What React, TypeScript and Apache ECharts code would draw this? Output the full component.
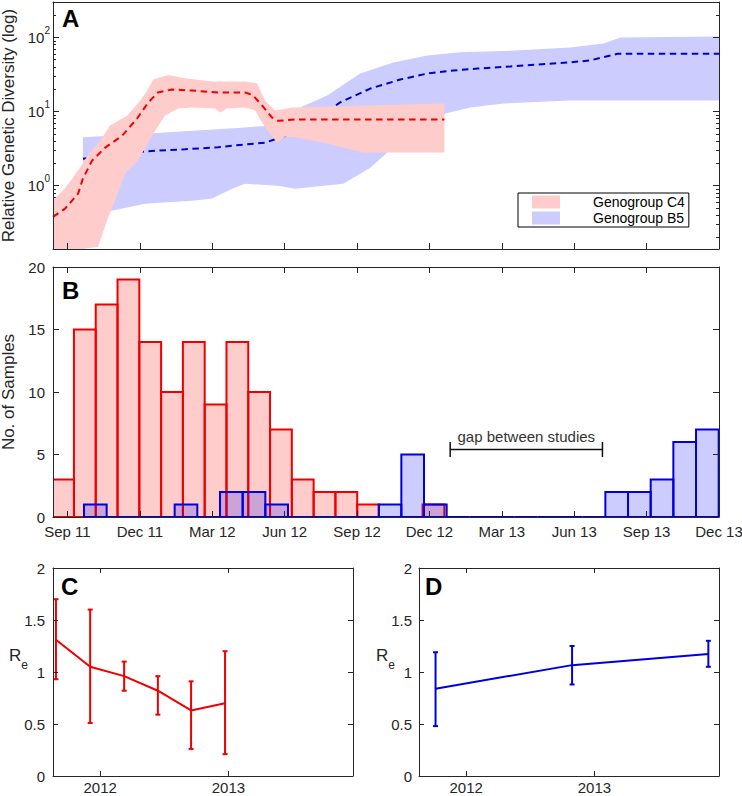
import React, { useEffect, useRef } from 'react';
import * as echarts from 'echarts';

const FONT = '"Liberation Sans", Arial, Helvetica, sans-serif';
const INK = '#262626';
const RED = '#ee0000';
const BLUE = '#0000dd';

// ---------- shared time axis for panels A and B (months after Sep 2011) ----------
const timeMin = -0.6;
const timeMax = 27;
const monthTickValues = [0, 3, 6, 9, 12, 15, 18, 21, 24, 27];
const monthTickLabels = ['Sep 11', 'Dec 11', 'Mar 12', 'Jun 12', 'Sep 12', 'Dec 12', 'Mar 13', 'Jun 13', 'Sep 13', 'Dec 13'];

// ---------- panel A: relative genetic diversity (log) ----------
const diversityMin = 0.14;
const diversityMax = 300;
const diversityMajorTicks = [1, 10, 100];
const diversityMinorTicks = [0.2, 0.3, 0.4, 0.5, 0.6, 0.7, 0.8, 0.9, 2, 3, 4, 5, 6, 7, 8, 9, 20, 30, 40, 50, 60, 70, 80, 90, 200];

const c4Median: [number, number][] = [
  [-0.6, 0.38], [-0.1, 0.49], [0.44, 0.78], [0.64, 1.25], [1.02, 2.18], [1.56, 3.26], [2.26, 4.7],
  [2.88, 8.0], [3.34, 13.2], [3.75, 18.1], [4.33, 19.8], [5.16, 19.2], [6.24, 18.1], [7.36, 18.1],
  [7.69, 16.5], [8.07, 12.0], [8.48, 8.3], [8.73, 7.5], [9.43, 7.8], [15.62, 7.8],
];
const c4Upper: [number, number][] = [
  [-0.6, 0.63], [-0.1, 0.92], [0.44, 1.6], [0.85, 2.6], [1.35, 4.0], [1.76, 6.5], [2.47, 8.8],
  [3.01, 14], [3.3, 19], [3.55, 27], [4.17, 31], [4.87, 28], [5.99, 25.5], [7.36, 25.5],
  [7.86, 24], [8.19, 14], [8.61, 10.3], [9.35, 11.3], [12.13, 12], [15.62, 12.8],
];
const c4Lower: [number, number][] = [
  [-0.6, 0.14], [0.64, 0.14], [1.27, 0.15], [1.64, 0.34], [1.97, 0.63], [2.38, 1.45], [2.92, 2.18],
  [3.63, 5.5], [4.04, 8.8], [4.58, 11.0], [5.16, 11.3], [6.12, 11.0], [6.32, 9.7], [6.61, 11.0],
  [7.36, 11.3], [7.78, 10.3], [8.19, 6.1], [8.69, 3.8], [9.02, 4.6], [9.43, 4.5], [10.76, 3.7],
  [12.26, 2.8], [15.62, 2.8],
];
const b5Median: [number, number][] = [
  [0.64, 2.3], [3.21, 2.9], [4.87, 3.1], [6.24, 3.3], [7.36, 3.6], [8.19, 3.8], [9.64, 5.5],
  [11.3, 13.3], [12.55, 20.4], [13.79, 27], [14.91, 32.5], [15.99, 35.7], [16.99, 38], [18.35, 40.5],
  [20.84, 46], [21.67, 49], [22.79, 60], [27, 60],
];
const b5Upper: [number, number][] = [
  [0.64, 4.5], [3.21, 5.0], [7.36, 6.1], [8.48, 6.5], [9.64, 11.3], [10.76, 16.5], [12.13, 32.6],
  [13.5, 46], [14.91, 57], [16.28, 63], [18.35, 66], [20.84, 73], [22.21, 83], [22.92, 100], [27, 103],
];
const b5Lower: [number, number][] = [
  [0.64, 0.35], [1.43, 0.43], [2.38, 0.5], [3.21, 0.57], [5.29, 0.63], [5.99, 0.67], [6.82, 0.91],
  [7.36, 1.06], [8.73, 1.0], [9.43, 0.91], [11.43, 1.06], [12.55, 1.75], [13.25, 2.8], [14.41, 5.5],
  [15.66, 9.4], [16.69, 11.3], [18.07, 12.8], [20.84, 14.1], [27, 14.1],
];

// ---------- panel B: histogram of samples ----------
const c4BinStart = -0.635;
const c4BinWidth = 0.903;
const c4Counts = [3, 15, 17, 19, 14, 10, 14, 9, 14, 10, 7, 3, 2, 2, 1, 0, 0, 1];
const b5BinStart = 0.684;
const b5BinWidth = 0.9394;
const b5Counts = [1, 0, 0, 0, 1, 0, 2, 2, 1, 0, 0, 0, 0, 1, 5, 1, 0, 0, 0, 0, 0, 0, 0, 2, 2, 3, 6, 7];
const samplesMax = 20;
const samplesInterval = 5;
const gapLabel = 'gap between studies';
const gapStart = 15.86;
const gapEnd = 22.17;
const gapLevel = 5.4;

// ---------- panels C and D: effective reproduction number ----------
const yearMin = 2011.632;
const yearMax = 2013.972;
const yearTicks = [2012, 2013];
const reMax = 2;
const reInterval = 0.5;

const c4Years = [2011.655, 2011.922, 2012.187, 2012.45, 2012.709, 2012.974];
const c4Re = [1.31, 1.05, 0.96, 0.82, 0.63, 0.7];
const c4ReLow = [0.93, 0.51, 0.82, 0.59, 0.26, 0.21];
const c4ReHigh = [1.7, 1.6, 1.1, 0.96, 0.91, 1.2];

const b5Years = [2011.761, 2012.826, 2013.889];
const b5Re = [0.84, 1.066, 1.174];
const b5ReLow = [0.48, 0.88, 1.05];
const b5ReHigh = [1.19, 1.25, 1.3];

// ---------- helpers ----------
const tickLine = { color: INK, width: 1 };
const labelText = { color: INK, fontFamily: FONT, fontSize: 15 };

function frameAxis(extra: any) {
  return {
    type: 'value',
    axisLine: { show: true, onZero: false, lineStyle: { color: INK, width: 1 } },
    axisTick: { show: false },
    axisLabel: { show: false },
    splitLine: { show: false },
    ...extra,
  };
}

function bandRender(upper: [number, number][], lower: [number, number][], fill: string) {
  return (params: any, api: any) => {
    if (params.dataIndex !== 0) return null;
    const pts = [
      ...upper.map((p) => api.coord(p)),
      ...lower.slice().reverse().map((p) => api.coord(p)),
    ];
    return { type: 'polygon', shape: { points: pts }, style: { fill } };
  };
}

function histRender(fill: string, stroke: string) {
  return (params: any, api: any) => {
    const x0 = api.value(0);
    const x1 = api.value(1);
    const v = api.value(2);
    const a = api.coord([x0, v]);
    const b = api.coord([x1, 0]);
    if (v === 0) {
      return { type: 'line', shape: { x1: a[0], y1: b[1], x2: b[0], y2: b[1] }, style: { stroke, lineWidth: 2 } };
    }
    return {
      type: 'rect',
      shape: { x: a[0], y: a[1], width: b[0] - a[0], height: b[1] - a[1] },
      style: { fill, stroke, lineWidth: 2 },
    };
  };
}

function errRender(color: string) {
  return (params: any, api: any) => {
    const x = api.value(0);
    const lo = api.coord([x, api.value(1)]);
    const hi = api.coord([x, api.value(2)]);
    const w = 2.5;
    const st = { stroke: color, lineWidth: 2 };
    return {
      type: 'group',
      children: [
        { type: 'line', shape: { x1: lo[0], y1: lo[1], x2: hi[0], y2: hi[1] }, style: st },
        { type: 'line', shape: { x1: lo[0] - w, y1: lo[1], x2: lo[0] + w, y2: lo[1] }, style: st },
        { type: 'line', shape: { x1: hi[0] - w, y1: hi[1], x2: hi[0] + w, y2: hi[1] }, style: st },
      ],
    };
  };
}

function gapRender(params: any, api: any) {
  const a = api.coord([api.value(0), api.value(2)]);
  const b = api.coord([api.value(1), api.value(2)]);
  const up = api.coord([api.value(0), api.value(2) + 0.6]);
  const dn = api.coord([api.value(0), api.value(2) - 0.6]);
  const st = { stroke: '#111', lineWidth: 1.5 };
  return {
    type: 'group',
    children: [
      { type: 'line', shape: { x1: a[0], y1: a[1], x2: b[0], y2: b[1] }, style: st },
      { type: 'line', shape: { x1: a[0], y1: up[1], x2: a[0], y2: dn[1] }, style: st },
      { type: 'line', shape: { x1: b[0], y1: up[1], x2: b[0], y2: dn[1] }, style: st },
      {
        type: 'text',
        style: {
          text: gapLabel, x: (a[0] + b[0]) / 2, y: a[1] - 13, align: 'center', verticalAlign: 'middle',
          fontFamily: FONT, fontSize: 15, fill: '#333',
        },
      },
    ],
  };
}

function binsOf(start: number, width: number, counts: number[]) {
  return counts.map((c, i) => [start + i * width, start + (i + 1) * width, c]);
}

function buildOption(): any {
  const logLabel = (v: number) => '10{sup|' + Math.round(Math.log10(v)) + '}';
  const monthLabel = (v: number) => monthTickLabels[monthTickValues.indexOf(Math.round(v))] ?? '';

  const grids = [
    { left: 53, top: 2, width: 666, height: 247 },
    { left: 53, top: 267, width: 666, height: 250 },
    { left: 53, top: 568, width: 300, height: 208 },
    { left: 419, top: 568, width: 300, height: 208 },
  ].map((g) => ({ ...g, containLabel: false, outerBoundsMode: 'none' }));

  const axisNameStyle = { fontFamily: FONT, fontSize: 17, color: INK, lineHeight: 17 };

  const xAxis = [
    // A
    frameAxis({
      gridIndex: 0, position: 'bottom', min: timeMin, max: timeMax, z: 6,
      axisTick: { show: true, inside: true, length: 6, customValues: monthTickValues, lineStyle: tickLine },
    }),
    frameAxis({ gridIndex: 0, position: 'top', min: timeMin, max: timeMax, z: 6 }),
    // B
    frameAxis({
      gridIndex: 1, position: 'bottom', min: timeMin, max: timeMax, z: 6,
      axisTick: { show: true, inside: true, length: 6, customValues: monthTickValues, lineStyle: tickLine },
      axisLabel: { show: true, customValues: monthTickValues, formatter: monthLabel, margin: 7, ...labelText },
    }),
    frameAxis({
      gridIndex: 1, position: 'top', min: timeMin, max: timeMax, z: 6,
      axisTick: { show: true, inside: true, length: 6, customValues: monthTickValues, lineStyle: tickLine },
    }),
    // C
    frameAxis({
      gridIndex: 2, position: 'bottom', min: yearMin, max: yearMax, z: 6,
      axisTick: { show: true, inside: true, length: 5, customValues: yearTicks, lineStyle: tickLine },
      axisLabel: { show: true, customValues: yearTicks, formatter: (v: number) => String(Math.round(v)), margin: 4, ...labelText },
    }),
    frameAxis({
      gridIndex: 2, position: 'top', min: yearMin, max: yearMax, z: 6,
      axisTick: { show: true, inside: true, length: 5, customValues: yearTicks, lineStyle: tickLine },
    }),
    // D
    frameAxis({
      gridIndex: 3, position: 'bottom', min: yearMin, max: yearMax, z: 6,
      axisTick: { show: true, inside: true, length: 5, customValues: yearTicks, lineStyle: tickLine },
      axisLabel: { show: true, customValues: yearTicks, formatter: (v: number) => String(Math.round(v)), margin: 4, ...labelText },
    }),
    frameAxis({
      gridIndex: 3, position: 'top', min: yearMin, max: yearMax, z: 6,
      axisTick: { show: true, inside: true, length: 5, customValues: yearTicks, lineStyle: tickLine },
    }),
  ];

  const logBase = { type: 'log', logBase: 10, min: diversityMin, max: diversityMax, gridIndex: 0 };
  const yAxis = [
    // A
    frameAxis({
      ...logBase, position: 'left', z: 6,
      axisTick: { show: true, inside: true, length: 6, customValues: diversityMajorTicks, lineStyle: tickLine },
      axisLabel: {
        show: true, customValues: diversityMajorTicks, formatter: logLabel, margin: 3, ...labelText,
        rich: { sup: { fontSize: 10, fontFamily: FONT, color: INK, padding: [0, 0, 14, 0] } },
      },
      name: 'Relative Genetic Diversity (log)', nameLocation: 'middle', nameGap: 36,
      nameTextStyle: axisNameStyle,
    }),
    frameAxis({
      ...logBase, position: 'right', z: 6,
      axisTick: { show: true, inside: true, length: 6, customValues: diversityMajorTicks, lineStyle: tickLine },
    }),
    frameAxis({
      ...logBase, position: 'left', axisLine: { show: false, onZero: false },
      axisTick: { show: true, inside: true, length: 3, customValues: diversityMinorTicks, lineStyle: tickLine },
    }),
    frameAxis({
      ...logBase, position: 'right', axisLine: { show: false, onZero: false },
      axisTick: { show: true, inside: true, length: 3, customValues: diversityMinorTicks, lineStyle: tickLine },
    }),
    // B
    frameAxis({
      gridIndex: 1, position: 'left', min: 0, max: samplesMax, interval: samplesInterval, z: 6,
      axisTick: { show: true, inside: true, length: 6, lineStyle: tickLine },
      axisLabel: { show: true, margin: 8, ...labelText },
      name: 'No. of Samples', nameLocation: 'middle', nameGap: 36,
      nameTextStyle: axisNameStyle,
    }),
    frameAxis({
      gridIndex: 1, position: 'right', min: 0, max: samplesMax, interval: samplesInterval, z: 6,
      axisTick: { show: true, inside: true, length: 6, lineStyle: tickLine },
    }),
    // C
    frameAxis({
      gridIndex: 2, position: 'left', min: 0, max: reMax, interval: reInterval, z: 6,
      axisTick: { show: true, inside: true, length: 5, lineStyle: tickLine },
      axisLabel: { show: true, margin: 8, ...labelText },
    }),
    frameAxis({
      gridIndex: 2, position: 'right', min: 0, max: reMax, interval: reInterval, z: 6,
      axisTick: { show: true, inside: true, length: 5, lineStyle: tickLine },
    }),
    // D
    frameAxis({
      gridIndex: 3, position: 'left', min: 0, max: reMax, interval: reInterval, z: 6,
      axisTick: { show: true, inside: true, length: 5, lineStyle: tickLine },
      axisLabel: { show: true, margin: 7, ...labelText },
    }),
    frameAxis({
      gridIndex: 3, position: 'right', min: 0, max: reMax, interval: reInterval, z: 6,
      axisTick: { show: true, inside: true, length: 5, lineStyle: tickLine },
    }),
  ];

  const series: any[] = [
    // A
    {
      type: 'custom', name: 'Genogroup B5', xAxisIndex: 0, yAxisIndex: 0, clip: true, silent: true, z: 1,
      itemStyle: { color: '#ccccff' }, data: b5Upper, encode: { x: 0, y: 1 },
      renderItem: bandRender(b5Upper, b5Lower, '#ccccff'),
    },
    {
      type: 'line', name: 'B5 median', xAxisIndex: 0, yAxisIndex: 0, data: b5Median, symbol: 'none', silent: true, z: 2,
      lineStyle: { color: '#0000cc', width: 2, type: [6.5, 4.5] },
    },
    {
      type: 'custom', name: 'Genogroup C4', xAxisIndex: 0, yAxisIndex: 0, clip: true, silent: true, z: 3,
      itemStyle: { color: '#ffcccc' }, data: c4Upper, encode: { x: 0, y: 1 },
      renderItem: bandRender(c4Upper, c4Lower, '#ffcccc'),
    },
    {
      type: 'line', name: 'C4 median', xAxisIndex: 0, yAxisIndex: 0, data: c4Median, symbol: 'none', silent: true, z: 4,
      lineStyle: { color: RED, width: 2, type: [6.5, 4.5] },
    },
    // B
    {
      type: 'custom', name: 'C4 samples', xAxisIndex: 2, yAxisIndex: 4, clip: true, silent: true, z: 2,
      data: binsOf(c4BinStart, c4BinWidth, c4Counts), encode: { x: [0, 1], y: 2 },
      renderItem: histRender('rgba(255,0,0,0.2)', RED),
    },
    {
      type: 'custom', name: 'B5 samples', xAxisIndex: 2, yAxisIndex: 4, clip: true, silent: true, z: 3,
      data: binsOf(b5BinStart, b5BinWidth, b5Counts), encode: { x: [0, 1], y: 2 },
      renderItem: histRender('rgba(0,0,255,0.2)', BLUE),
    },
    {
      type: 'custom', name: 'gap', xAxisIndex: 2, yAxisIndex: 4, silent: true, z: 4,
      data: [[gapStart, gapEnd, gapLevel]], encode: { x: [0, 1], y: 2 },
      renderItem: gapRender,
    },
    // C
    {
      type: 'line', name: 'C4 Re', xAxisIndex: 4, yAxisIndex: 6, symbol: 'none', silent: true,
      data: c4Years.map((y, i) => [y, c4Re[i]]), lineStyle: { color: RED, width: 2 },
    },
    {
      type: 'custom', name: 'C4 Re interval', xAxisIndex: 4, yAxisIndex: 6, silent: true,
      data: c4Years.map((y, i) => [y, c4ReLow[i], c4ReHigh[i]]), encode: { x: 0, y: [1, 2] },
      renderItem: errRender(RED),
    },
    // D
    {
      type: 'line', name: 'B5 Re', xAxisIndex: 6, yAxisIndex: 8, symbol: 'none', silent: true,
      data: b5Years.map((y, i) => [y, b5Re[i]]), lineStyle: { color: BLUE, width: 2 },
    },
    {
      type: 'custom', name: 'B5 Re interval', xAxisIndex: 6, yAxisIndex: 8, silent: true,
      data: b5Years.map((y, i) => [y, b5ReLow[i], b5ReHigh[i]]), encode: { x: 0, y: [1, 2] },
      renderItem: errRender(BLUE),
    },
  ];

  const letter = (t: string, x: number, y: number) => ({
    type: 'text', x, y, z: 10,
    style: { text: t, fontFamily: FONT, fontSize: 24, fontWeight: 'bold', fill: '#000', verticalAlign: 'middle' },
  });
  const reLabel = (x: number, y: number) => ({
    type: 'text', x, y, z: 10,
    style: {
      text: 'R{sub|e}', fontFamily: FONT, fontSize: 17, fill: INK, align: 'right', verticalAlign: 'middle',
      rich: { sub: { fontSize: 12, fontFamily: FONT, fill: INK, color: INK, padding: [20, 0, 0, 0] } },
    },
  });

  return {
    animation: false,
    backgroundColor: '#ffffff',
    textStyle: { fontFamily: FONT },
    grid: grids,
    xAxis,
    yAxis,
    series,
    legend: {
      left: 518, top: 193, orient: 'vertical', itemWidth: 28, itemHeight: 13, itemGap: 2,
      padding: [2, 4, 2, 14], borderColor: '#000', borderWidth: 1, backgroundColor: '#fff',
      selectedMode: false, z: 8,
      textStyle: { fontFamily: FONT, fontSize: 14, color: '#000', lineHeight: 13, padding: [0, 0, 0, 28] },
      data: [
        { name: 'Genogroup C4', icon: 'rect', itemStyle: { color: '#ffcccc' } },
        { name: 'Genogroup B5', icon: 'rect', itemStyle: { color: '#ccccff' } },
      ],
    },
    graphic: [
      letter('A', 62, 18.5),
      letter('B', 62, 290),
      letter('C', 61, 586),
      letter('D', 425, 586),
      reLabel(28, 655),
      reLabel(395, 655),
    ],
  };
}

export default function App() {
  const ref = useRef<HTMLDivElement>(null);
  useEffect(() => {
    const chart = echarts.init(ref.current!, null, { renderer: 'svg' });
    chart.setOption(buildOption());
    return () => chart.dispose();
  }, []);
  return (
    <div
      ref={ref}
      style={{ position: 'absolute', left: 0, top: 0, width: 742, height: 796, background: '#fff' }}
    />
  );
}
